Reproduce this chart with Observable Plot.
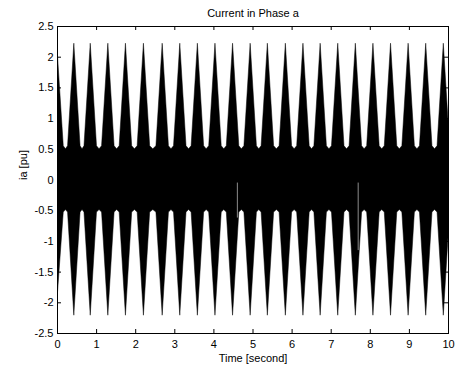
<!DOCTYPE html>
<html>
<head>
<meta charset="utf-8">
<script src="https://cdn.jsdelivr.net/npm/d3@7"></script>
<script src="https://cdn.jsdelivr.net/npm/@observablehq/plot@0.6"></script>
<style>
  body { margin: 0; background: #fff; }
</style>
</head>
<body>
<div id="chart"></div>
<script>
// Phase-a current: the fast carrier is drawn as its envelope.
// Each lobe of the beat: time of its crest and its upper / lower extremes (pu).
const peakTime = [0.00, 0.43, 0.85, 1.30, 1.75, 2.21, 2.69, 3.14, 3.59, 4.04, 4.49, 4.94,
                  5.38, 5.84, 6.29, 6.73, 7.18, 7.63, 8.08, 8.53, 8.98, 9.43, 9.88];
const peakHigh = [2.14, 2.22, 2.22, 2.22, 2.22, 2.22, 2.22, 2.22, 2.22, 2.22, 2.22, 2.22,
                  2.22, 2.22, 2.22, 2.22, 2.22, 2.22, 2.22, 2.22, 2.22, 2.22, 2.22];
const peakLow  = [-1.95, -2.21, -2.21, -2.21, -2.21, -2.21, -2.21, -2.21, -2.21, -2.21, -2.21, -2.21,
                  -2.21, -2.21, -2.21, -2.21, -2.21, -2.21, -2.21, -2.21, -2.21, -2.21, -2.21];
// Half width of a lobe where it meets the steady band (s), and the band levels (pu).
const lobeHalfWidth = 0.16;
const bandHigh = 0.55;
const bandLow = -0.53;
const gapHigh = 0.50;
const gapLow = -0.49;

// Short dropouts in the trace.
const glitchTime = [4.60, 7.69];
const glitchTop = [-0.05, -0.05];
const glitchBottom = [-0.62, -1.15];

const xTicks = [0, 1, 2, 3, 4, 5, 6, 7, 8, 9, 10];
const yTicks = [-2.5, -2, -1.5, -1, -0.5, 0, 0.5, 1, 1.5, 2, 2.5];

// Envelope table: band foot, crest, band foot, then the notch between lobes.
const envelope = [];
peakTime.forEach((t, i) => {
  envelope.push({t: t - lobeHalfWidth, lo: bandLow, hi: bandHigh});
  envelope.push({t, lo: peakLow[i], hi: peakHigh[i]});
  envelope.push({t: t + lobeHalfWidth, lo: bandLow, hi: bandHigh});
  if (i < peakTime.length - 1) {
    envelope.push({t: (t + peakTime[i + 1]) / 2, lo: gapLow, hi: gapHigh});
  }
});
const glitches = glitchTime.map((t, i) => ({t, y1: glitchTop[i], y2: glitchBottom[i]}));

const W = 456, H = 371;
const mL = 57, mR = 8, mT = 26, mB = 38;
const innerW = W - mL - mR, innerH = H - mT - mB;
const tick = 4;
const fmt = d => String(d);

const chart = Plot.plot({
  width: W,
  height: H,
  marginLeft: mL,
  marginRight: mR,
  marginTop: mT,
  marginBottom: mB,
  style: {
    fontFamily: "'Liberation Sans', Arial, Helvetica, sans-serif",
    fontSize: "11px",
    color: "#000",
    background: "#fff"
  },
  x: {domain: [0, 10]},
  y: {domain: [-2.5, 2.5]},
  marks: [
    Plot.areaY(envelope, {x: "t", y1: "lo", y2: "hi", fill: "black", stroke: "black", strokeWidth: 0.5, clip: true}),
    Plot.ruleX(glitches, {x: "t", y1: "y1", y2: "y2", stroke: "#8c8c8c", strokeWidth: 1}),
    // inward ticks on all four sides
    Plot.tickX(xTicks, {x: d => d, insetTop: innerH - tick, stroke: "black"}),
    Plot.tickX(xTicks, {x: d => d, insetBottom: innerH - tick, stroke: "black"}),
    Plot.tickY(yTicks, {y: d => d, insetRight: innerW - tick, stroke: "black"}),
    Plot.tickY(yTicks, {y: d => d, insetLeft: innerW - tick, stroke: "black"}),
    Plot.frame({stroke: "black"}),
    Plot.axisX({ticks: xTicks, tickSize: 0, tickPadding: 7, tickFormat: fmt, label: null}),
    Plot.axisY({ticks: yTicks, tickSize: 0, tickPadding: 4, tickFormat: fmt, label: null}),
    Plot.text(["Current in Phase a"], {frameAnchor: "top", dy: -13, lineAnchor: "middle", text: d => d}),
    Plot.text(["Time [second]"], {frameAnchor: "bottom", dy: 25, lineAnchor: "middle", text: d => d}),
    Plot.text(["ia [pu]"], {frameAnchor: "left", dx: -34, rotate: -90, lineAnchor: "middle", text: d => d})
  ]
});
document.getElementById("chart").appendChild(chart);
</script>
</body>
</html>
